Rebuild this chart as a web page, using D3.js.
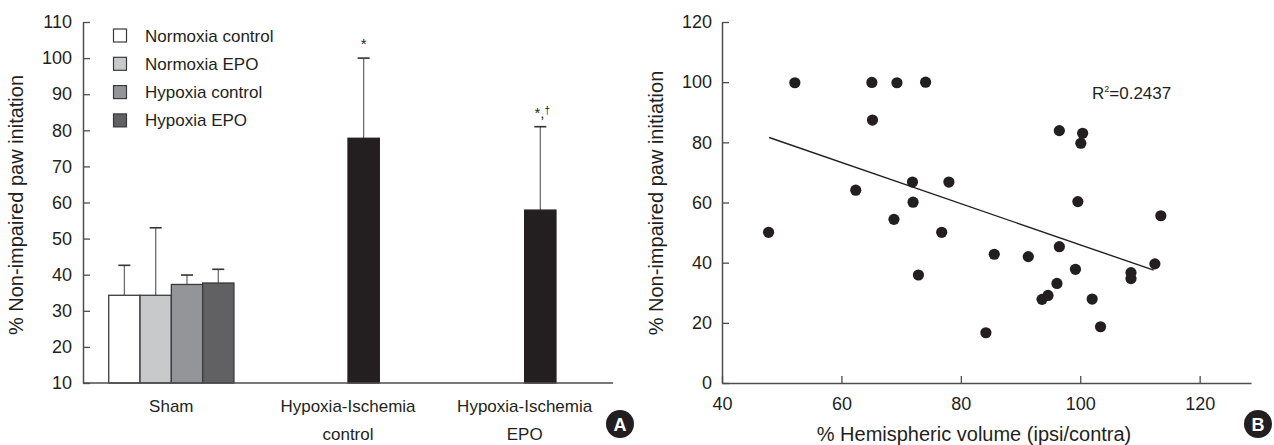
<!DOCTYPE html>
<html>
<head>
<meta charset="utf-8">
<script src="https://cdn.jsdelivr.net/npm/d3@7"></script>
<style>
  body { margin: 0; background: #fff; }
  svg { display: block; }
  text { font-family: "Liberation Sans", Arial, sans-serif; fill: #231f20; }
</style>
</head>
<body>
<svg></svg>
<script>
// ---- panel A data ----
const groups = ['Sham', 'HI control', 'HI EPO'];
const groupLabels = [['Sham'], ['Hypoxia-Ischemia', 'control'], ['Hypoxia-Ischemia', 'EPO']];
const seriesNames = ['Normoxia control', 'Normoxia EPO', 'Hypoxia control', 'Hypoxia EPO'];
const seriesColors = ['#ffffff', '#c8c9cb', '#949598', '#616163'];
const barGroup = ['Sham', 'Sham', 'Sham', 'Sham', 'HI control', 'HI EPO'];
const barSlot = ['Normoxia control', 'Normoxia EPO', 'Hypoxia control', 'Hypoxia EPO', 'Hypoxia control', 'Hypoxia control'];
const barMean = [34.3, 34.3, 37.3, 37.7, 77.8, 57.9];
const barUpper = [42.6, 53.0, 39.9, 41.5, 100, 81.0];
const barFill = ['#ffffff', '#c8c9cb', '#949598', '#616163', '#231f20', '#231f20'];
const barMark = ['', '', '', '', '*', '*,'];
const yTicksA = [10, 20, 30, 40, 50, 60, 70, 80, 90, 100, 110];

// ---- panel B data ----
const volX = [47.8, 52.2, 65.1, 69.3, 74.1, 65.2, 62.4, 71.9, 72.0, 68.8, 72.9, 76.8,
              78.0, 85.6, 84.2, 91.3, 96.5, 100.4, 100.1, 99.6, 96.5, 99.2, 96.1,
              93.6, 94.6, 102.0, 103.4, 108.5, 108.5, 112.5, 113.5];
const pawY = [50.1, 99.8, 99.9, 99.8, 100, 87.4, 64.1, 66.8, 60.1, 54.4, 35.9, 50.1,
              66.8, 42.8, 16.7, 42.0, 83.9, 83.0, 79.7, 60.3, 45.3, 37.8, 33.1,
              27.8, 29.1, 27.9, 18.7, 36.7, 34.7, 39.6, 55.6];
const trendX = [47.9, 112.3];
const trendY = [81.6, 37.5];
const xTicksB = [40, 60, 80, 100, 120];
const yTicksB = [0, 20, 40, 60, 80, 100, 120];

const svg = d3.select('svg')
  .attr('width', 1274)
  .attr('height', 445);

const axisColor = '#4d4d4f';

// ================= panel A =================
const yA = d3.scaleLinear().domain([10, 110]).range([383, 22]);
const x0 = d3.scaleBand().domain(groups).range([83, 613]);
const barW = 31.3;
const x1 = d3.scaleBand().domain(seriesNames).range([-2 * barW, 2 * barW]);

const gA = svg.append('g');

const bars = barMean.map((v, i) => ({
  v: v, up: barUpper[i], fill: barFill[i], mark: barMark[i],
  x: x0(barGroup[i]) + x0.bandwidth() / 2 + x1(barSlot[i])
}));

// error bars (drawn first so bars cover the lower part)
bars.forEach(d => {
  const cx = d.x + barW / 2;
  gA.append('line')
    .attr('x1', cx).attr('x2', cx)
    .attr('y1', yA(d.v)).attr('y2', yA(d.up))
    .attr('stroke', '#6d6e70')
    .attr('stroke-width', 1.3);
  gA.append('line')
    .attr('x1', cx - 6).attr('x2', cx + 6)
    .attr('y1', yA(d.up)).attr('y2', yA(d.up))
    .attr('stroke', '#333')
    .attr('stroke-width', 1.6);
});

gA.selectAll('rect.bar')
  .data(bars)
  .enter().append('rect')
  .attr('class', 'bar')
  .attr('x', d => d.x)
  .attr('y', d => yA(d.v))
  .attr('width', barW)
  .attr('height', d => yA(10) - yA(d.v))
  .attr('fill', d => d.fill)
  .attr('stroke', d => d.fill === '#231f20' ? '#231f20' : '#3a3a3c')
  .attr('stroke-width', 1.3);

// significance marks
bars.filter(d => d.mark).forEach(d => {
  const t = gA.append('text')
    .attr('x', d.x + barW / 2 + (d.mark === '*' ? 0 : 2))
    .attr('y', yA(d.up) - 9)
    .attr('text-anchor', 'middle')
    .style('font-size', '15px')
    .text(d.mark);
  if (d.mark !== '*') {
    t.append('tspan')
      .attr('dy', -4)
      .style('font-size', '10px')
      .text('\u2020');
  }
});

// y axis
const axA = gA.append('g')
  .attr('transform', 'translate(83,0)')
  .call(d3.axisLeft(yA).tickValues(yTicksA).tickSizeInner(-7).tickSizeOuter(0).tickPadding(11));
axA.select('.domain').attr('stroke', axisColor).attr('stroke-width', 1.5);
axA.selectAll('.tick line').attr('stroke', axisColor).attr('stroke-width', 1.3);
axA.selectAll('.tick text').style('font-size', '18px').attr('fill', '#231f20')
  .style('font-family', '"Liberation Sans", Arial, sans-serif');

// x axis line
gA.append('line')
  .attr('x1', 83).attr('x2', 613)
  .attr('y1', yA(10)).attr('y2', yA(10))
  .attr('stroke', axisColor)
  .attr('stroke-width', 1.5);

// category labels
groups.forEach((g, i) => {
  const t = gA.append('text')
    .attr('x', x0(g) + x0.bandwidth() / 2)
    .attr('y', 412)
    .attr('text-anchor', 'middle')
    .style('font-size', '17px');
  groupLabels[i].forEach((line, j) => {
    t.append('tspan')
      .attr('x', x0(g) + x0.bandwidth() / 2)
      .attr('dy', j === 0 ? 0 : 28)
      .text(line);
  });
});

// y title
gA.append('text')
  .attr('transform', 'translate(23,205) rotate(-90)')
  .attr('text-anchor', 'middle')
  .style('font-size', '20px')
  .text('% Non-impaired paw initation');

// legend
seriesNames.forEach((s, i) => {
  const ly = 29 + i * 28.3;
  gA.append('rect')
    .attr('x', 113.5).attr('y', ly)
    .attr('width', 13).attr('height', 13)
    .attr('fill', seriesColors[i])
    .attr('stroke', '#3a3a3c')
    .attr('stroke-width', 1.2);
  gA.append('text')
    .attr('x', 145).attr('y', ly + 12.5)
    .style('font-size', '17px')
    .text(s);
});

// ================= panel B =================
const xB = d3.scaleLinear().domain([40, 128.6]).range([722, 1251]);
const yB = d3.scaleLinear().domain([0, 120]).range([383, 22]);
const gB = svg.append('g');

const axBy = gB.append('g')
  .attr('transform', 'translate(722,0)')
  .call(d3.axisLeft(yB).tickValues(yTicksB).tickSizeInner(-7).tickSizeOuter(0).tickPadding(10));
const axBx = gB.append('g')
  .attr('transform', 'translate(0,383)')
  .call(d3.axisBottom(xB).tickValues(xTicksB).tickSizeInner(-7).tickSizeOuter(0).tickPadding(14));
[axBy, axBx].forEach(a => {
  a.select('.domain').attr('stroke', axisColor).attr('stroke-width', 1.5);
  a.selectAll('.tick line').attr('stroke', axisColor).attr('stroke-width', 1.3);
  a.selectAll('.tick text').style('font-size', '18px').attr('fill', '#231f20')
    .style('font-family', '"Liberation Sans", Arial, sans-serif');
});

// trend line
gB.append('path')
  .attr('d', d3.line()(trendX.map((x, i) => [xB(x), yB(trendY[i])])))
  .attr('stroke', '#231f20')
  .attr('stroke-width', 1.4)
  .attr('fill', 'none');

// points
gB.selectAll('circle.pt')
  .data(volX.map((x, i) => [x, pawY[i]]))
  .enter().append('circle')
  .attr('class', 'pt')
  .attr('cx', d => xB(d[0]))
  .attr('cy', d => yB(d[1]))
  .attr('r', 5.6)
  .attr('fill', '#231f20');

// R^2 label
const r2 = gB.append('text')
  .attr('x', 1092).attr('y', 99)
  .style('font-size', '17px')
  .text('R');
r2.append('tspan').attr('dy', -7).style('font-size', '9px').text('2');
r2.append('tspan').attr('dy', 7).text('=0.2437');

// titles
gB.append('text')
  .attr('transform', 'translate(663,203) rotate(-90)')
  .attr('text-anchor', 'middle')
  .style('font-size', '20px')
  .text('% Non-impaired paw initiation');

gB.append('text')
  .attr('x', 974).attr('y', 441)
  .attr('text-anchor', 'middle')
  .style('font-size', '20px')
  .text('% Hemispheric volume (ipsi/contra)');

// panel badges
[['A', 620, 424], ['B', 1258, 424]].forEach(b => {
  svg.append('circle')
    .attr('cx', b[1]).attr('cy', b[2]).attr('r', 14)
    .attr('fill', '#231f20');
  svg.append('text')
    .attr('x', b[1]).attr('y', b[2] + 6.5)
    .attr('text-anchor', 'middle')
    .style('font-size', '18px')
    .style('font-weight', 'bold')
    .style('fill', '#fff')
    .text(b[0]);
});
</script>
</body>
</html>
